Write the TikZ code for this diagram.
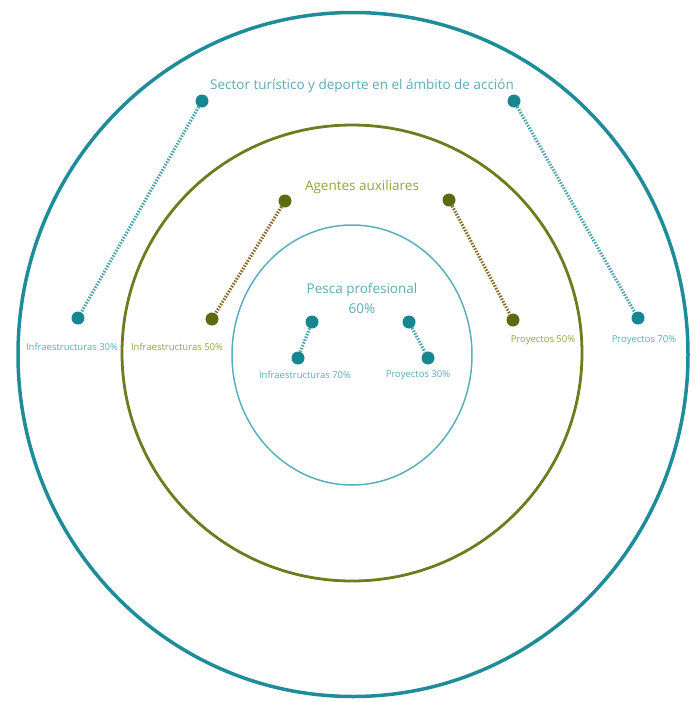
\documentclass[tikz,border=0pt]{standalone}
\usepackage{fontspec}
\setmainfont{Open Sans}
\definecolor{teal1}{HTML}{1F8C9A}
\definecolor{tealdot}{HTML}{16878F}
\definecolor{tealtxt}{HTML}{5AACB6}
\definecolor{tealin}{HTML}{5AAFBC}
\definecolor{olive1}{HTML}{6E7B1E}
\definecolor{olivedot}{HTML}{5E6A10}
\definecolor{olivetxt}{HTML}{93A046}
\definecolor{oliveln}{HTML}{8A6A2A}
\begin{document}
\begin{tikzpicture}[x=1pt,y=-1pt,
  dotT/.style={circle,fill=tealdot,inner sep=0pt,minimum size=13pt},
  dotO/.style={circle,fill=olivedot,inner sep=0pt,minimum size=13pt},
  lnT/.style={draw=teal1!80,line width=3.2pt,dash pattern=on 1.5pt off 1.5pt},
  lnO/.style={draw=oliveln,line width=3.2pt,dash pattern=on 1.5pt off 1.5pt},
  lblT/.style={text=tealtxt,font=\fontsize{9.5}{11}\selectfont,inner sep=1pt},
  lblO/.style={text=olivetxt,font=\fontsize{9.5}{11}\selectfont,inner sep=1pt},
  ttlT/.style={text=tealtxt,font=\fontsize{13.5}{20}\selectfont,align=center},
  ttlO/.style={text=olivetxt,font=\fontsize{13.5}{20}\selectfont,align=center}]
\useasboundingbox (0,0) rectangle (699,702);
% circles
\draw[teal1,line width=3.5pt] (353,354.5) ellipse [x radius=335,y radius=342];
\draw[olive1,line width=2.8pt] (352,353) ellipse [x radius=230,y radius=228];
\draw[tealin,line width=1.5pt] (352,355) ellipse [x radius=120,y radius=130];
% titles
\node[ttlT] (tS) at (362,86) {Sector turístico y deporte en el ámbito de acción};
\node[ttlO] (tA) at (362,187) {Agentes auxiliares};
\node[ttlT] (tP) at (362,298) {Pesca profesional\\60\%};
% outer dots
\node[dotT] (s1) at (202,101) {};
\node[dotT] (s2) at (514,101) {};
\node[dotT] (s3) at (78,318) {};
\node[dotT] (s4) at (638,318) {};
\draw[lnT] (s1) -- (s3);
\draw[lnT] (s2) -- (s4);
% middle dots
\node[dotO] (a1) at (285,201) {};
\node[dotO] (a2) at (449,200) {};
\node[dotO] (a3) at (212,319) {};
\node[dotO] (a4) at (513,320) {};
\draw[lnO] (a1) -- (a3);
\draw[lnO] (a2) -- (a4);
% inner dots
\node[dotT] (p1) at (312,322) {};
\node[dotT] (p2) at (409,322) {};
\node[dotT] (p3) at (298,358) {};
\node[dotT] (p4) at (428,358) {};
\draw[lnT] (p1) -- (p3);
\draw[lnT] (p2) -- (p4);
% labels
\node[lblT] (l1) at (72,347) {Infraestructuras 30\%};
\node[lblO] (l2) at (177,347) {Infraestructuras 50\%};
\node[lblO] (l3) at (543,340) {Proyectos 50\%};
\node[lblT] (l4) at (644,340) {Proyectos 70\%};
\node[lblT] (l5) at (305,375) {Infraestructuras 70\%};
\node[lblT] (l6) at (418,375) {Proyectos 30\%};
\end{tikzpicture}
\end{document}
